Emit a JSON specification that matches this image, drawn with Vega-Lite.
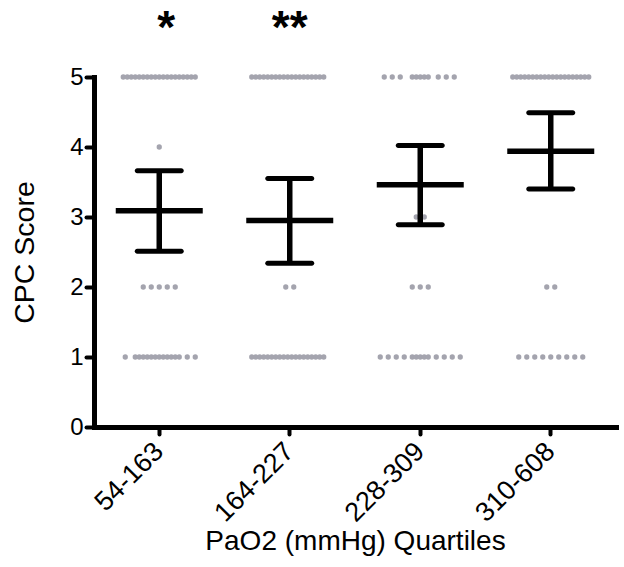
{
  "$schema": "https://vega.github.io/schema/vega-lite/v6.json",
  "autosize": {"type": "none"},
  "padding": {"left": 94, "top": 77, "right": 8, "bottom": 140},
  "width": 522,
  "height": 350,
  "background": "white",
  "config": {
    "view": {"stroke": null},
    "font": "Liberation Sans",
    "axis": {"grid": false},
    "axisY": {
      "titleFontSize": 28.5, "titleFontWeight": "normal", "titleColor": "black", "titlePadding": 30,
      "labelFontSize": 24, "labelColor": "black", "labelPadding": 3,
      "tickColor": "black", "tickWidth": 4, "tickSize": 8, "tickCap": "round",
      "domainColor": "black", "domainWidth": 5, "domainCap": "square"
    }
  },
  "datasets": {
    "dots": [
      {"g":"54-163","cpc":5,"s":-18},{"g":"54-163","cpc":5,"s":-16},{"g":"54-163","cpc":5,"s":-14},{"g":"54-163","cpc":5,"s":-12},{"g":"54-163","cpc":5,"s":-10},{"g":"54-163","cpc":5,"s":-8},{"g":"54-163","cpc":5,"s":-6},{"g":"54-163","cpc":5,"s":-4},{"g":"54-163","cpc":5,"s":-2},{"g":"54-163","cpc":5,"s":0},{"g":"54-163","cpc":5,"s":2},{"g":"54-163","cpc":5,"s":4},{"g":"54-163","cpc":5,"s":6},{"g":"54-163","cpc":5,"s":8},{"g":"54-163","cpc":5,"s":10},{"g":"54-163","cpc":5,"s":12},{"g":"54-163","cpc":5,"s":14},{"g":"54-163","cpc":5,"s":16},{"g":"54-163","cpc":5,"s":18},
      {"g":"54-163","cpc":4,"s":0},
      {"g":"54-163","cpc":2,"s":-8},{"g":"54-163","cpc":2,"s":-4},{"g":"54-163","cpc":2,"s":0},{"g":"54-163","cpc":2,"s":4},{"g":"54-163","cpc":2,"s":8},
      {"g":"54-163","cpc":1,"s":-17},{"g":"54-163","cpc":1,"s":-12},{"g":"54-163","cpc":1,"s":-10},{"g":"54-163","cpc":1,"s":-8},{"g":"54-163","cpc":1,"s":-6},{"g":"54-163","cpc":1,"s":-4},{"g":"54-163","cpc":1,"s":-2},{"g":"54-163","cpc":1,"s":0},{"g":"54-163","cpc":1,"s":2},{"g":"54-163","cpc":1,"s":4},{"g":"54-163","cpc":1,"s":6},{"g":"54-163","cpc":1,"s":8},{"g":"54-163","cpc":1,"s":10},{"g":"54-163","cpc":1,"s":14},{"g":"54-163","cpc":1,"s":18},

      {"g":"164-227","cpc":5,"s":-19},{"g":"164-227","cpc":5,"s":-17},{"g":"164-227","cpc":5,"s":-15},{"g":"164-227","cpc":5,"s":-13},{"g":"164-227","cpc":5,"s":-11},{"g":"164-227","cpc":5,"s":-9},{"g":"164-227","cpc":5,"s":-7},{"g":"164-227","cpc":5,"s":-5},{"g":"164-227","cpc":5,"s":-3},{"g":"164-227","cpc":5,"s":-1},{"g":"164-227","cpc":5,"s":1},{"g":"164-227","cpc":5,"s":3},{"g":"164-227","cpc":5,"s":5},{"g":"164-227","cpc":5,"s":7},{"g":"164-227","cpc":5,"s":9},{"g":"164-227","cpc":5,"s":11},{"g":"164-227","cpc":5,"s":13},{"g":"164-227","cpc":5,"s":15},{"g":"164-227","cpc":5,"s":17},
      {"g":"164-227","cpc":2,"s":-2},{"g":"164-227","cpc":2,"s":2},
      {"g":"164-227","cpc":1,"s":-19},{"g":"164-227","cpc":1,"s":-17},{"g":"164-227","cpc":1,"s":-15},{"g":"164-227","cpc":1,"s":-13},{"g":"164-227","cpc":1,"s":-11},{"g":"164-227","cpc":1,"s":-9},{"g":"164-227","cpc":1,"s":-7},{"g":"164-227","cpc":1,"s":-5},{"g":"164-227","cpc":1,"s":-3},{"g":"164-227","cpc":1,"s":-1},{"g":"164-227","cpc":1,"s":1},{"g":"164-227","cpc":1,"s":3},{"g":"164-227","cpc":1,"s":5},{"g":"164-227","cpc":1,"s":7},{"g":"164-227","cpc":1,"s":9},{"g":"164-227","cpc":1,"s":11},{"g":"164-227","cpc":1,"s":13},{"g":"164-227","cpc":1,"s":15},{"g":"164-227","cpc":1,"s":17},

      {"g":"228-309","cpc":5,"s":-18},{"g":"228-309","cpc":5,"s":-14},{"g":"228-309","cpc":5,"s":-10},{"g":"228-309","cpc":5,"s":-4},{"g":"228-309","cpc":5,"s":-2},{"g":"228-309","cpc":5,"s":0},{"g":"228-309","cpc":5,"s":2},{"g":"228-309","cpc":5,"s":4},{"g":"228-309","cpc":5,"s":9},{"g":"228-309","cpc":5,"s":13},{"g":"228-309","cpc":5,"s":17},
      {"g":"228-309","cpc":3,"s":-2},{"g":"228-309","cpc":3,"s":2},
      {"g":"228-309","cpc":2,"s":-4},{"g":"228-309","cpc":2,"s":0},{"g":"228-309","cpc":2,"s":4},
      {"g":"228-309","cpc":1,"s":-20},{"g":"228-309","cpc":1,"s":-16},{"g":"228-309","cpc":1,"s":-12},{"g":"228-309","cpc":1,"s":-8},{"g":"228-309","cpc":1,"s":-4},{"g":"228-309","cpc":1,"s":-2},{"g":"228-309","cpc":1,"s":0},{"g":"228-309","cpc":1,"s":2},{"g":"228-309","cpc":1,"s":4},{"g":"228-309","cpc":1,"s":8},{"g":"228-309","cpc":1,"s":12},{"g":"228-309","cpc":1,"s":16},{"g":"228-309","cpc":1,"s":20},

      {"g":"310-608","cpc":5,"s":-19},{"g":"310-608","cpc":5,"s":-17},{"g":"310-608","cpc":5,"s":-15},{"g":"310-608","cpc":5,"s":-13},{"g":"310-608","cpc":5,"s":-11},{"g":"310-608","cpc":5,"s":-9},{"g":"310-608","cpc":5,"s":-7},{"g":"310-608","cpc":5,"s":-5},{"g":"310-608","cpc":5,"s":-3},{"g":"310-608","cpc":5,"s":-1},{"g":"310-608","cpc":5,"s":1},{"g":"310-608","cpc":5,"s":3},{"g":"310-608","cpc":5,"s":5},{"g":"310-608","cpc":5,"s":7},{"g":"310-608","cpc":5,"s":9},{"g":"310-608","cpc":5,"s":11},{"g":"310-608","cpc":5,"s":13},{"g":"310-608","cpc":5,"s":15},{"g":"310-608","cpc":5,"s":17},{"g":"310-608","cpc":5,"s":19},
      {"g":"310-608","cpc":2,"s":-2},{"g":"310-608","cpc":2,"s":2},
      {"g":"310-608","cpc":1,"s":-16},{"g":"310-608","cpc":1,"s":-12},{"g":"310-608","cpc":1,"s":-8},{"g":"310-608","cpc":1,"s":-4},{"g":"310-608","cpc":1,"s":0},{"g":"310-608","cpc":1,"s":4},{"g":"310-608","cpc":1,"s":8},{"g":"310-608","cpc":1,"s":12},{"g":"310-608","cpc":1,"s":16}
    ],
    "stats": [
      {"g":"54-163","mean":3.09,"lo":2.51,"hi":3.66},
      {"g":"164-227","mean":2.95,"lo":2.34,"hi":3.55},
      {"g":"228-309","mean":3.46,"lo":2.89,"hi":4.02},
      {"g":"310-608","mean":3.94,"lo":3.40,"hi":4.49}
    ],
    "stars": [
      {"g":"54-163","label":"*"},
      {"g":"164-227","label":"**"}
    ]
  },
  "encoding": {
    "x": {
      "field": "g", "type": "nominal",
      "sort": ["54-163","164-227","228-309","310-608"],
      "scale": {"paddingInner": 0, "paddingOuter": 0},
      "axis": {
        "title": "PaO2 (mmHg) Quartiles", "titleFontSize": 28, "titleFontWeight": "normal", "titleColor": "black", "titlePadding": 1,
        "labelAngle": -45, "labelFontSize": 27, "labelColor": "black", "labelAlign": "right", "labelBaseline": "middle", "labelPadding": 13,
        "tickColor": "black", "tickWidth": 4, "tickSize": 7, "tickCap": "round",
        "domainColor": "black", "domainWidth": 5, "domainCap": "square"
      }
    }
  },
  "layer": [
    {
      "data": {"name": "dots"},
      "mark": {"type": "circle", "size": 28, "color": "#a4a4ae", "opacity": 1},
      "encoding": {
        "y": {
          "field": "cpc", "type": "quantitative", "title": "CPC Score",
          "scale": {"domain": [0, 5], "nice": false},
          "axis": {"values": [0, 1, 2, 3, 4, 5], "format": "d"}
        },
        "xOffset": {"field": "s", "type": "quantitative", "scale": {"domain": [-40, 40], "range": [-14.75, 145.25]}}
      }
    },
    {
      "data": {"name": "stats"},
      "mark": {"type": "rule", "color": "black", "strokeWidth": 5.5},
      "encoding": {
        "y": {"field": "lo", "type": "quantitative", "title": "CPC Score", "axis": {"values": [0, 1, 2, 3, 4, 5], "format": "d"}},
        "y2": {"field": "hi"}
      }
    },
    {
      "data": {"name": "stats"},
      "mark": {"type": "tick", "color": "black", "size": 87, "thickness": 5.5, "opacity": 1},
      "encoding": {"y": {"field": "mean", "type": "quantitative", "title": "CPC Score", "axis": {"values": [0, 1, 2, 3, 4, 5], "format": "d"}}}
    },
    {
      "data": {"name": "stats"},
      "mark": {"type": "tick", "color": "black", "size": 49, "thickness": 5, "cornerRadius": 2.5, "opacity": 1},
      "encoding": {"y": {"field": "lo", "type": "quantitative", "title": "CPC Score", "axis": {"values": [0, 1, 2, 3, 4, 5], "format": "d"}}}
    },
    {
      "data": {"name": "stats"},
      "mark": {"type": "tick", "color": "black", "size": 49, "thickness": 5, "cornerRadius": 2.5, "opacity": 1},
      "encoding": {"y": {"field": "hi", "type": "quantitative", "title": "CPC Score", "axis": {"values": [0, 1, 2, 3, 4, 5], "format": "d"}}}
    },
    {
      "data": {"name": "stars"},
      "transform": [{"filter": "datum.g === '54-163'"}],
      "mark": {"type": "text", "fontSize": 46, "fontWeight": "bold", "align": "center", "baseline": "alphabetic", "color": "black", "dx": 7},
      "encoding": {"y": {"datum": 5.48, "type": "quantitative", "title": "CPC Score", "axis": {"values": [0, 1, 2, 3, 4, 5], "format": "d"}}, "text": {"field": "label"}}
    },
    {
      "data": {"name": "stars"},
      "transform": [{"filter": "datum.g === '164-227'"}],
      "mark": {"type": "text", "fontSize": 46, "fontWeight": "bold", "align": "center", "baseline": "alphabetic", "color": "black"},
      "encoding": {"y": {"datum": 5.48, "type": "quantitative", "title": "CPC Score", "axis": {"values": [0, 1, 2, 3, 4, 5], "format": "d"}}, "text": {"field": "label"}}
    }
  ]
}
